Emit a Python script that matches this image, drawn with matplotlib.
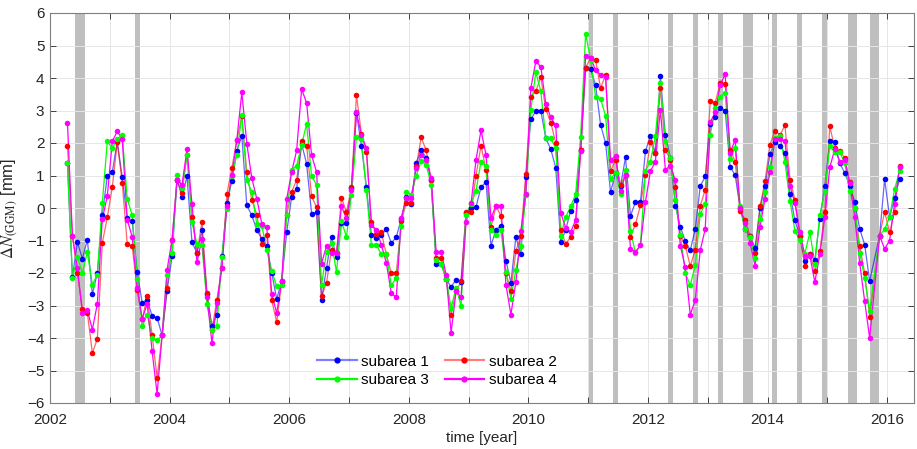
import numpy as np
import matplotlib
matplotlib.use("Agg")
import matplotlib.pyplot as plt
from matplotlib.ticker import FixedLocator, FixedFormatter
from matplotlib.lines import Line2D

# ---------------- data ----------------
first_year, first_month = 2002, 4
last_year, last_month = 2016, 3
skipped_months = [(2015, 10)]

sub1 = [1.38, -2.12, -1.05, -1.56, -0.97, -2.66, -2.0, -0.2, 0.97,
        1.1, 2.05, 0.94, -0.31, -0.41, -1.98, -2.92, -2.82, -3.33, -3.38, -3.92, -2.54,
        -1.49, 0.87, 0.34, 0.97, -1.06, -1.38, -0.69, -2.66, -3.64, -3.28, -1.49, 0.15,
        0.84, 1.76, 2.22, 0.08, -0.23, -0.67, -0.95, -1.16, -2.0, -2.8, -2.25, -0.75,
        0.34, 0.6, 1.97, 1.36, -0.17, -0.12, -2.82, -1.84, -0.9, -1.51, -0.46, -0.46,
        0.61, 2.92, 1.92, 0.65, -0.83, -0.92, -0.82, -0.65, -1.08, -0.9, -0.33, 0.33,
        0.13, 1.38, 1.79, 1.54, 0.85, -1.72, -1.71, -2.19, -2.43, -2.2, -2.27, -0.15,
        0.0, 0.03, 0.64, 0.8, -1.16, -0.67, -0.54, -1.62, -2.3, -0.89, -1.43, 0.95,
        2.74, 2.97, 2.99, 2.15, 1.81, 1.24, -1.06, -0.67, -0.08, 0.26, 1.8, 4.32,
        4.28, 3.77, 2.56, 2.0, 0.49, 1.08, 0.67, 1.56, -0.24, 0.18, 0.2, 1.74,
        2.23, 1.69, 4.05, 2.25, 1.54, 0.07, -0.58, -1.02, -1.3, -0.65, 0.67, 0.97,
        2.6, 2.79, 3.07, 3.0, 1.26, 1.02, 0.0, -0.65, -0.87, -1.23, 0.0, 0.67,
        1.67, 2.02, 1.9, 1.69, 0.44, -0.38, -0.87, -1.64, -1.41, -1.6, -0.33, 0.67,
        2.05, 2.02, 1.38, 1.08, 0.69, 0.18, -0.64, -1.13, -2.25, -0.85, 0.89,
        -0.28, 0.31, 0.89]

sub2 = [1.92, -0.87, -2.0, -3.12, -3.23, -4.46, -4.03, -1.07, -0.29,
        0.64, 2.02, 0.77, -1.1, -1.18, -2.51, -3.43, -2.72, -3.92, -5.23, -3.92, -2.46,
        -0.97, 0.87, 0.46, 1.64, -0.29, -1.38, -0.43, -2.63, -3.74, -2.82, -1.84, 0.43,
        1.23, 2.1, 2.82, 1.1, 0.24, -0.2, -1.1, -0.82, -2.84, -3.51, -2.28, -0.2,
        0.49, 0.87, 2.05, 1.92, 0.36, 0.02, -2.72, -2.3, -1.28, -1.38, 0.31, -0.13,
        0.64, 3.48, 2.28, 1.72, -0.44, -0.8, -0.75, -1.43, -2.0, -2.0, -0.41, 0.15,
        0.15, 1.28, 2.17, 1.77, 0.85, -1.55, -1.55, -2.19, -3.28, -2.56, -2.26, -0.12,
        -0.12, 1.0, 1.92, 1.18, -0.59, 0.05, -0.24, -2.0, -2.56, -1.33, -0.85, 1.05,
        3.43, 3.59, 4.03, 3.04, 2.63, 2.0, -0.67, -1.1, -0.89, -0.56, 1.77, 4.32,
        4.61, 4.54, 3.69, 4.1, 1.13, 1.49, 0.72, 1.02, -0.9, -0.49, 0.08, 1.02,
        2.02, 1.69, 3.69, 1.79, 1.49, 0.64, -0.85, -1.16, -1.79, -1.28, 0.07, 0.56,
        3.3, 3.23, 3.86, 3.82, 1.79, 1.43, -0.1, -0.36, -0.87, -1.38, 0.05, 0.82,
        1.95, 2.38, 2.25, 2.54, 0.87, 0.26, -0.87, -1.77, -1.4, -1.95, -1.33, -0.13,
        2.51, 1.84, 1.76, 1.54, 0.79, 0.0, -1.16, -2.0, -3.35, -0.85, -0.12,
        -0.75, -0.12, 1.28]

sub3 = [1.38, -2.15, -1.52, -2.0, -1.35, -2.36, -2.05, 0.15, 2.05,
        1.84, 2.13, 2.25, 0.28, -0.23, -2.17, -3.64, -3.28, -4.0, -4.07, -3.92, -2.05,
        -1.38, 1.02, 0.61, 1.64, -0.44, -1.11, -1.15, -2.95, -3.74, -3.62, -1.51, -0.02,
        0.99, 1.64, 2.87, 0.87, 0.49, -0.49, -0.54, -1.28, -1.95, -2.41, -2.38, -0.2,
        1.18, 1.3, 1.95, 2.59, 0.97, 0.72, -2.36, -1.35, -1.08, -1.97, -0.41, -0.89,
        0.41, 2.18, 2.12, 0.54, -1.13, -1.13, -1.43, -1.43, -2.38, -2.15, -0.54, 0.49,
        0.41, 0.99, 1.45, 1.33, 0.72, -1.61, -1.72, -2.19, -3.07, -2.46, -3.0, -0.2,
        0.12, 0.53, 1.43, 1.3, -0.67, -0.82, -0.67, -1.97, -2.79, -1.9, -1.18, 0.41,
        3.02, 4.18, 3.59, 2.15, 2.15, 1.84, -0.85, -0.28, 0.05, 0.43, 2.2, 5.36,
        4.56, 3.41, 3.35, 2.84, 0.89, 1.08, 0.43, 1.18, -0.7, -1.39, -1.13, 1.15,
        1.43, 2.22, 3.84, 2.05, 1.54, 0.26, -0.82, -2.0, -2.38, -1.76, -0.18, 0.12,
        2.25, 3.09, 3.42, 3.54, 1.51, 1.86, 0.05, -0.65, -0.9, -1.54, -0.33, 0.48,
        1.25, 2.15, 2.23, 1.41, 0.23, -0.7, -0.99, -1.4, -0.75, -1.72, -0.23, 0.53,
        1.9, 1.72, 1.72, 1.38, 0.51, 0.0, -1.38, -2.15, -3.18, -0.85, -0.65,
        -0.29, 0.58, 1.13]

sub4 = [2.63, -0.85, -1.84, -3.23, -3.15, -3.74, -2.95, -0.34, 0.36,
        2.05, 2.36, 2.12, -0.36, -0.89, -2.46, -3.41, -2.95, -4.41, -5.72, -3.92, -1.9,
        -0.97, 0.87, 0.72, 1.81, 0.12, -1.67, -0.94, -2.74, -4.15, -2.92, -1.84, 0.07,
        1.02, 2.1, 3.56, 1.98, 0.92, 0.29, -0.48, -0.58, -2.66, -3.23, -2.25, 0.28,
        1.11, 1.77, 3.66, 3.23, 1.62, 1.11, -1.71, -1.16, -1.38, -1.38, 0.05, -0.32,
        0.56, 2.94, 2.25, 1.84, -0.51, -0.67, -1.13, -1.69, -2.62, -2.75, -0.31, 0.31,
        0.31, 1.23, 1.64, 1.48, 0.92, -1.35, -1.36, -2.05, -3.84, -2.56, -2.74, -0.43,
        0.14, 1.48, 2.39, 1.64, -0.31, 0.07, 0.07, -2.36, -3.28, -2.28, -0.7, 0.43,
        3.69, 4.51, 4.35, 3.21, 2.79, 2.54, -0.15, -0.61, -0.74, -0.36, 1.76, 4.68,
        4.63, 4.24, 4.1, 4.04, 1.49, 1.59, 0.53, 1.02, -1.25, -1.35, -1.15, 0.18,
        1.13, 1.43, 3.02, 1.18, 1.3, 0.85, -1.16, -1.82, -3.28, -2.84, -1.3, -0.65,
        2.64, 2.94, 3.77, 4.12, 1.69, 2.1, 0.0, -0.46, -1.08, -1.77, -0.58, 0.29,
        1.1, 2.12, 2.12, 2.05, 0.69, 0.15, -0.74, -1.47, -1.47, -2.28, -1.43, -0.29,
        1.25, 1.81, 1.43, 1.49, 0.77, -0.28, -1.69, -2.87, -4.0, -0.85, -1.26,
        -1.0, 0.13, 1.26]

# periods shaded in grey (decimal years, start/end)
gap_start = [2002.417, 2003.417, 2011.000, 2011.417, 2012.333, 2012.750, 2013.167,
             2013.583, 2014.083, 2014.500, 2014.917, 2015.350, 2015.720]
gap_end = [2002.583, 2003.500, 2011.083, 2011.500, 2012.417, 2012.833, 2013.250,
           2013.750, 2014.167, 2014.583, 2015.000, 2015.490, 2015.860]

labels = ["subarea 1", "subarea 2", "subarea 3", "subarea 4"]
colors = ["#0000ff", "#ff0000", "#00ff00", "#ff00ff"]

# monthly time axis (mid-month decimal years)
times = []
y, m = first_year, first_month
while (y, m) <= (last_year, last_month):
    if (y, m) not in skipped_months:
        times.append(y + (m - 0.5) / 12.0)
    m += 1
    if m > 12:
        m = 1
        y += 1
times = np.array(times)
for s in (sub1, sub2, sub3, sub4):
    assert len(s) == len(times), (len(s), len(times))

# ---------------- figure ----------------
plt.rcParams['font.family'] = ['Liberation Sans', 'DejaVu Sans']
plt.rcParams['mathtext.fontset'] = 'stix'

fig = plt.figure(figsize=(9.17, 4.49), dpi=100)
ax = fig.add_axes([50 / 917, 1 - 403 / 449, (914 - 50) / 917, (403 - 13) / 449])

for s0, s1 in zip(gap_start, gap_end):
    ax.axvspan(s0, s1, color="#bfbfbf", lw=0, zorder=0.5)

alphas = [0.6, 0.6, 1.0, 1.0]
for vals, col, a in zip((sub1, sub2, sub3, sub4), colors, alphas):
    ax.plot(times, vals, '-', color=col, lw=0.9, alpha=a, zorder=2)
    ax.plot(times, vals, 'o', color=col, ms=4.0, mec=col, mew=0, zorder=3)

ax.set_xlim(2002, 2016.45)
ax.set_ylim(-6, 6)

years = list(range(2002, 2017))
ax.xaxis.set_major_locator(FixedLocator(years))
ax.xaxis.set_major_formatter(FixedFormatter([str(yy) if yy % 2 == 0 else "" for yy in years]))
ax.set_yticks(range(-6, 7))
ax.tick_params(direction='in', length=4, width=0.6, top=True, right=True,
               labelsize=11, colors='#262626')
ax.tick_params(axis='x', pad=7)
ax.tick_params(axis='y', pad=4)
for sp in ax.spines.values():
    sp.set_color('#7f7f7f')
    sp.set_linewidth(0.8)
ax.grid(True, color='#e6e6e6', lw=0.7, zorder=0.2)
ax.set_axisbelow(True)

ax.set_xlabel('time [year]', fontsize=11, color='#262626', labelpad=3)
ax.set_ylabel(r'$\Delta N_{(\mathrm{GGM})}$ [mm]', fontsize=12, color='#262626', labelpad=5)

# legend
leg_handles = []
for col, a, lab in zip(colors, alphas, labels):
    line_col = matplotlib.colors.to_rgba(col, 0.5 if a < 1 else 1.0)
    lh = Line2D([], [], color=line_col, lw=1.6, marker='o', ms=4.5,
                markerfacecolor=col, markeredgecolor=col, mew=0, label=lab)
    leg_handles.append(lh)
order = [0, 2, 1, 3]
fig.legend([leg_handles[i] for i in order], [labels[i] for i in order],
           ncol=2, loc='center', bbox_to_anchor=(437 / 917, 1 - 371 / 449),
           frameon=False, fontsize=11, handlelength=2.6, columnspacing=1.0,
           labelspacing=0.3, handletextpad=0.3)

fig.savefig('out.png', dpi=100)
